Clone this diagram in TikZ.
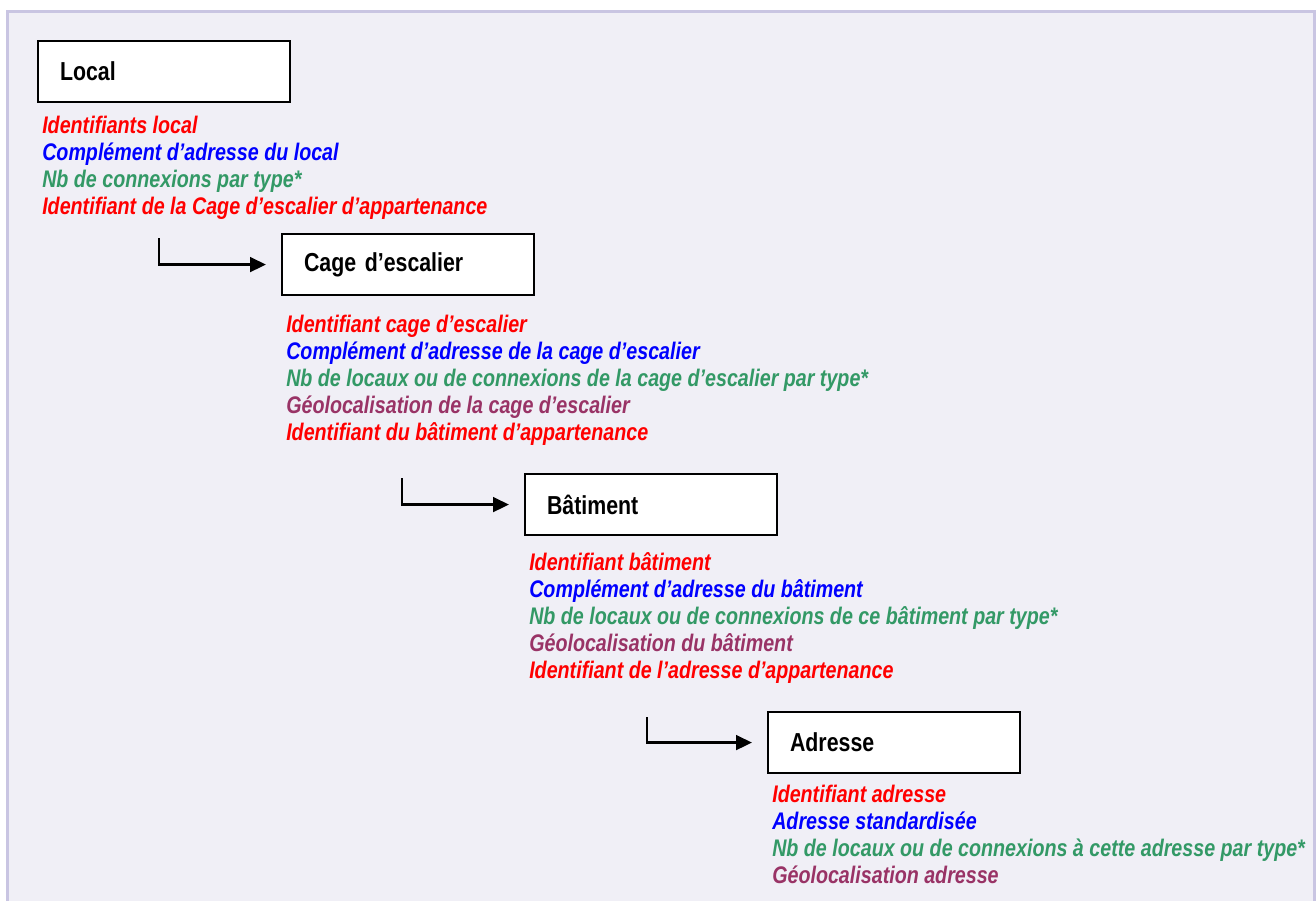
\documentclass[tikz,border=0pt]{standalone}
\usepackage{fontspec}
\setmainfont{Liberation Sans}[FakeStretch=0.82]
\usetikzlibrary{arrows.meta}
\definecolor{idred}{HTML}{FF0000}
\definecolor{adrblue}{HTML}{0000FF}
\definecolor{nbgreen}{HTML}{339966}
\definecolor{geopurple}{HTML}{993366}
\definecolor{framebg}{HTML}{F0EFF6}
\definecolor{frameline}{HTML}{C9C5E2}
\tikzset{
    entity/.style={draw=black, line width=1.6pt, fill=white, anchor=north west,
        minimum width=189pt, minimum height=45.75pt, text width=156pt, align=left,
        inner xsep=16.5pt, font=\fontsize{19.5}{20}\selectfont\bfseries},
    attr/.style={anchor=base west, inner sep=0pt, font=\fontsize{18}{20}\selectfont\bfseries\itshape},
    link/.style={line width=2pt, -{Triangle[length=12pt, width=11pt]}}
}
\begin{document}
\begin{tikzpicture}[x=0.75pt, y=-0.75pt]
    \useasboundingbox (0,0) rectangle (1316,901);
    \fill[framebg] (7,11) rectangle (1314,901);
    \draw[frameline, line width=2.25pt] (7,901) -- (7,11) -- (1314,11) -- (1314,901);
    % entities
    \node[entity] (local) at (37,40) {Local};
    \node[entity] (cage) at (281,233) {Cage d’escalier};
    \node[entity] (bat) at (524,473) {Bâtiment};
    \node[entity] (adr) at (767,711) {Adresse};
    % attributes
    \foreach \c/\t [count=\i] in {idred/{Identifiants local}, adrblue/{Complément d’adresse du local},
        nbgreen/{Nb de connexions par type*}, idred/{Identifiant de la Cage d’escalier d’appartenance}}
        \node[attr, text=\c] (loc\i) at (42,106+27*\i) {\t};
    \foreach \c/\t [count=\i] in {idred/{Identifiant cage d’escalier}, adrblue/{Complément d’adresse de la cage d’escalier},
        nbgreen/{Nb de locaux ou de connexions de la cage d’escalier par type*},
        geopurple/{Géolocalisation de la cage d’escalier}, idred/{Identifiant du bâtiment d’appartenance}}
        \node[attr, text=\c] (cag\i) at (286,305+27*\i) {\t};
    \foreach \c/\t [count=\i] in {idred/{Identifiant bâtiment}, adrblue/{Complément d’adresse du bâtiment},
        nbgreen/{Nb de locaux ou de connexions de ce bâtiment par type*},
        geopurple/{Géolocalisation du bâtiment}, idred/{Identifiant de l’adresse d’appartenance}}
        \node[attr, text=\c] (bat\i) at (529,543+27*\i) {\t};
    \foreach \c/\t [count=\i] in {idred/{Identifiant adresse}, adrblue/{Adresse standardisée},
        nbgreen/{Nb de locaux ou de connexions à cette adresse par type*},
        geopurple/{Géolocalisation adresse}}
        \node[attr, text=\c] (adr\i) at (772,775+27*\i) {\t};
    % links
    \coordinate (l1) at (159,238);
    \coordinate (l2) at (402,478);
    \coordinate (l3) at (647,717);
    \draw[link] (l1) |- ([xshift=-11.25pt]cage.west);
    \draw[link] (l2) |- ([xshift=-11.25pt]bat.west);
    \draw[link] (l3) |- ([xshift=-11.25pt]adr.west);
\end{tikzpicture}
\end{document}
